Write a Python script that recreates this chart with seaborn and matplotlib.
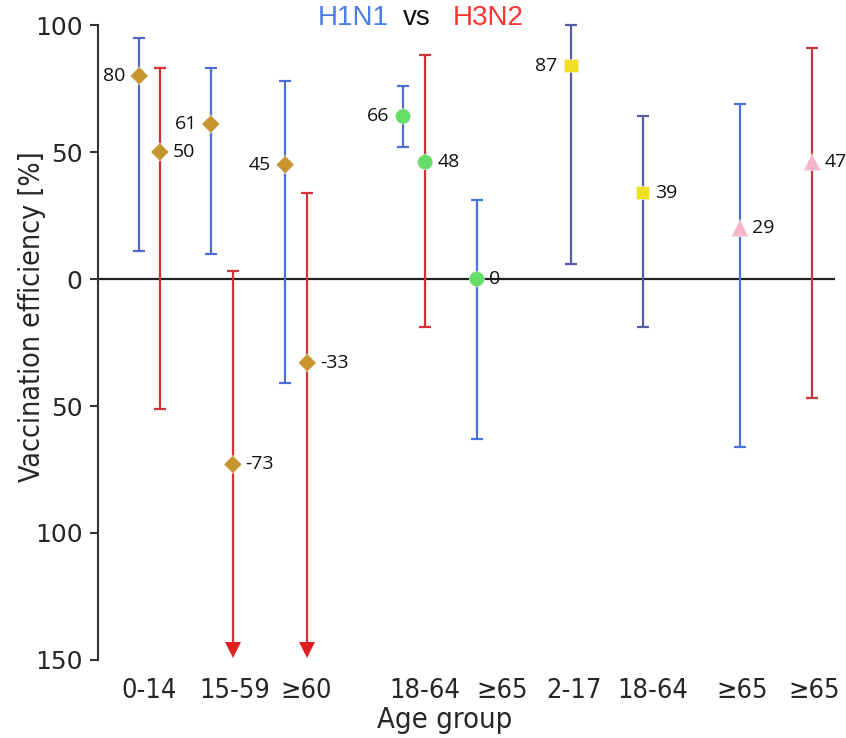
import numpy as np
import pandas as pd
import matplotlib
matplotlib.use("Agg")
import matplotlib.pyplot as plt
import seaborn as sns

# data
strain = ['H1N1', 'H3N2', 'H1N1', 'H3N2', 'H1N1', 'H3N2', 'H1N1', 'H3N2',
          'H1N1', 'H1N1', 'H1N1', 'H1N1', 'H3N2']
pos = [0.56, 0.84, 1.53, 1.83, 2.54, 2.84, 4.14, 4.44, 5.14, 6.42, 7.39, 8.71, 9.69]
est = [80, 50, 61, -73, 45, -33, 64, 46, 0, 84, 34, 20, 46]
labels = ['80', '50', '61', '-73', '45', '-33', '66', '48', '0', '87', '39', '29', '47']
hi = [95, 83, 83, 3, 78, 34, 76, 88, 31, 100, 64, 69, 91]
lo = [11, -51, 10, None, -41, None, 52, -19, -63, 6, -19, -66, -47]   # None = off scale
kind = ['diamond'] * 6 + ['circle'] * 3 + ['square'] * 2 + ['triangle'] * 2
side = ['left', 'right', 'left', 'right', 'left', 'right', 'left', 'right',
        'right', 'left', 'right', 'right', 'right']

tick_pos = [0.69, 1.85, 2.82, 4.44, 5.48, 6.46, 7.53, 8.74, 9.72]
tick_labels = ['0-14', '15-59', '≥60', '18-64', '≥65', '2-17', '18-64', '≥65', '≥65']
y_ticks = [100, 50, 0, -50, -100, -150]

df = pd.DataFrame({'x': pos, 'y': est, 'kind': kind, 'strain': strain})

bar_colors = ['#5366c8', '#cf3232', '#4f6cd0', '#d63434', '#4a70d8', '#d63434',
              '#4f6cd0', '#d03232', '#4a72dc', '#5a5aa6', '#5a5aa6', '#4a74dc', '#c43a3a']
pal = {'diamond': '#c8942e', 'circle': '#66dd66', 'square': '#f0df22', 'triangle': '#f7b5c9'}
mk = {'diamond': 'D', 'circle': 'o', 'square': 's', 'triangle': '^'}
sz = {'diamond': 85, 'circle': 120, 'square': 95, 'triangle': 150}

sns.set_style("white")
fig = plt.figure(figsize=(8.46, 7.38), dpi=100)
ax = fig.add_axes([0.1158, 0.1057, 0.8712, 0.8604])

ax.axhline(0, color='#222222', lw=1.6, zorder=1)

# error bars
for i in range(len(pos)):
    c = bar_colors[i]
    bottom = lo[i] if lo[i] is not None else -144
    ax.vlines(pos[i], bottom, hi[i], color=c, lw=1.6, zorder=2, clip_on=False)
    ax.plot([pos[i]], [hi[i]], marker='_', ms=9, mew=1.6, color=c, zorder=2, clip_on=False)
    if lo[i] is not None:
        ax.plot([pos[i]], [lo[i]], marker='_', ms=9, mew=1.6, color=c, zorder=2, clip_on=False)
    else:
        ax.plot([pos[i]], [-146], marker='v', ms=12, color='#e02020', mew=0, zorder=2, clip_on=False)

sns.scatterplot(data=df, x='x', y='y', hue='kind', style='kind', size='kind',
                palette=pal, markers=mk, sizes=sz, linewidth=0.4, edgecolor='#f0f0f0',
                legend=False, zorder=3, clip_on=False, ax=ax)

for i in range(len(pos)):
    off = -10 if side[i] == 'left' else 9
    ax.annotate(labels[i], (pos[i], est[i]), xytext=(off, 0), textcoords='offset points',
                ha='right' if side[i] == 'left' else 'left', va='center',
                fontsize=14, family=['Open Sans', 'DejaVu Sans'], color='#111111', zorder=4)

cond = dict(family='DejaVu Sans', stretch='condensed')

ax.set_xlim(0, 10)
ax.set_ylim(-150, 100)
ax.set_yticks(y_ticks)
ax.set_yticklabels([str(abs(v)) for v in y_ticks], fontsize=18, family='DejaVu Sans')
ax.set_xticks(tick_pos)
ax.set_xticklabels(tick_labels, fontsize=19.5, **cond)
ax.tick_params(axis='x', length=0, pad=13)
ax.tick_params(axis='y', length=6, width=1.5, color='#333333', pad=5, direction='out', left=True)

for s in ['top', 'right', 'bottom']:
    ax.spines[s].set_visible(False)
ax.spines['left'].set_color('#333333')
ax.spines['left'].set_linewidth(1.5)

ax.set_xlabel('Age group', fontsize=21, **cond)
ax.set_ylabel('Vaccination efficiency [%]', fontsize=20.5, **cond)
ax.yaxis.set_label_coords(-0.07, 0.54)
ax.xaxis.set_label_coords(0.471, -0.072)

fig.text(0.418, 0.975, 'H1N1', color='#4a7de6', fontsize=20, ha='center', va='center',
         family='Liberation Sans')
fig.text(0.493, 0.975, 'vs', color='#111111', fontsize=20, ha='center', va='center',
         family='Liberation Sans')
fig.text(0.577, 0.975, 'H3N2', color='#ff3333', fontsize=20, ha='center', va='center',
         family='Liberation Sans')

plt.savefig('out.png', dpi=100)
